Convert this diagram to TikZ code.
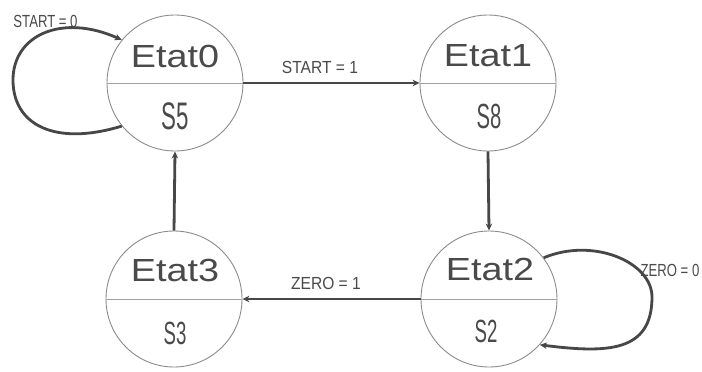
\documentclass[tikz,border=0pt]{standalone}
\usepackage{fontspec}
\setmainfont{Liberation Sans}
\newfontfamily\statefont[FakeStretch=1.18]{Liberation Sans}
\newfontfamily\outfont[FakeStretch=0.58]{Liberation Sans}
\newfontfamily\labwide[FakeStretch=0.89]{Liberation Sans}
\newfontfamily\labnarrow[FakeStretch=0.75]{Liberation Sans}
\usetikzlibrary{arrows.meta}

\definecolor{circgray}{HTML}{8C8C8C}
\definecolor{divgray}{HTML}{A0A0A0}
\definecolor{arrgray}{HTML}{474747}
\definecolor{txtgray}{HTML}{4A4A4A}

\begin{document}
\begin{tikzpicture}[x=1pt,y=1pt,
  state/.style={circle, draw=circgray, fill=white, line width=0.9pt,
    minimum size=136pt, inner sep=0pt},
  divider/.style={draw=divgray, line width=0.9pt},
  statename/.style={text=txtgray, inner sep=0pt, text height=23pt, text depth=0pt,
    font=\statefont\fontsize{32}{32}\selectfont},
  outname/.style={text=txtgray, inner sep=0pt, text depth=0pt, font=\outfont},
  big/.style={text height=27.5pt, font=\outfont\fontsize{38.4}{38.4}\selectfont},
  mid/.style={text height=25pt, font=\outfont\fontsize{34.9}{34.9}\selectfont},
  small/.style={text height=23pt, font=\outfont\fontsize{32.1}{32.1}\selectfont},
  lblwide/.style={text=txtgray, inner sep=0pt, text height=12.5pt, text depth=0pt,
    font=\labwide\fontsize{17.5}{17.5}\selectfont},
  lblnarrow/.style={text=txtgray, inner sep=0pt, text height=12.5pt, text depth=0pt,
    font=\labnarrow\fontsize{17.5}{17.5}\selectfont},
  trans/.style={draw=arrgray, line width=2.8pt,
    -{Stealth[length=7pt,width=6.5pt]}},
]
% canvas
\path[fill=white,use as bounding box] (0,0) rectangle (702,-372);

% states
\node[state] (e0) at (175,-83) {};
\node[state] (e1) at (488,-83) {};
\node[state] (e2) at (489,-299) {};
\node[state] (e3) at (174,-299) {};

\foreach \s in {e0,e1,e2,e3}
  \draw[divider] (\s.west) -- (\s.east);

% state names and outputs
\node[statename] (e0n) at (175,-56) {Etat0};
\node[statename] (e1n) at (488,-55) {Etat1};
\node[statename] (e2n) at (490,-269) {Etat2};
\node[statename] (e3n) at (175,-270) {Etat3};

\node[outname,big]   (e0o) at (175,-115.5) {S5};
\node[outname,mid]   (e1o) at (489,-116) {S8};
\node[outname,small] (e2o) at (486,-331) {S2};
\node[outname,small] (e3o) at (175,-333) {S3};

% transitions
\draw[trans] (e0.east) -- (e1.west);
\draw[trans] (e1.south) -- (e2.north);
\draw[trans] (e2.west) -- (e3.east);
\draw[trans] (e3.north) -- (e0.south);

\coordinate (lp0) at (13,-80);
\coordinate (lp2) at (652,-297);
\draw[trans] (e0.219) .. controls (55,-146.5) and (13,-125) .. (lp0)
  .. controls (13,-35) and (62,-13) .. (e0.141);
\draw[trans] (e2.37) .. controls (593,-237) and (652,-262) .. (lp2)
  .. controls (652,-352) and (608,-353.5) .. (e2.318);

% transition labels
\node[lblwide]   (t01) at (320,-67)   {START = 1};
\node[lblwide]   (t23) at (326,-283.5) {ZERO = 1};
\node[lblnarrow] (t00) at (45.5,-21.5) {START = 0};
\node[lblnarrow] (t22) at (670,-270)  {ZERO = 0};
\end{tikzpicture}
\end{document}
